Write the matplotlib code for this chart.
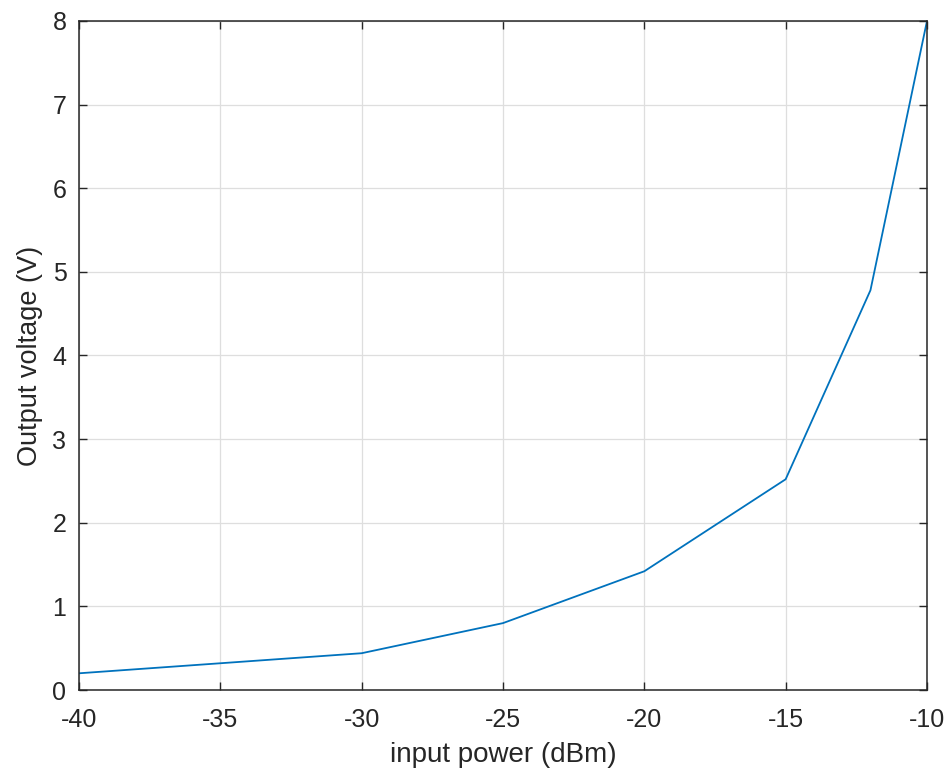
import matplotlib
matplotlib.use('Agg')
import matplotlib.pyplot as plt

# input power (dBm) vs output voltage (V)
power_dbm = [-40, -30, -25, -20, -15, -12, -10]
voltage = [0.20, 0.44, 0.80, 1.42, 2.52, 4.78, 8.0]

x_ticks = [-40, -35, -30, -25, -20, -15, -10]
y_ticks = [0, 1, 2, 3, 4, 5, 6, 7, 8]

plt.rcParams['font.family'] = ['Liberation Sans', 'DejaVu Sans']
plt.rcParams['axes.unicode_minus'] = False

fig = plt.figure(figsize=(9.49, 7.74), dpi=100)
ax = fig.add_axes([0.0832, 0.1085, 0.8936, 0.8644])

ax.plot(power_dbm, voltage, color='#0072BD', lw=1.3)

ax.set_xlim(-40, -10)
ax.set_ylim(0, 8)
ax.set_xticks(x_ticks)
ax.set_yticks(y_ticks)
ax.grid(True, color='#dedede', lw=0.9)
ax.set_axisbelow(True)

for s in ax.spines.values():
    s.set_color('#262626')
    s.set_linewidth(1.1)
ax.tick_params(direction='in', length=6, width=1, colors='#262626',
               labelsize=18, top=True, right=True)
ax.tick_params(axis='x', pad=13)
ax.tick_params(axis='y', pad=9)

ax.set_xlabel('input power (dBm)', fontsize=20, color='#262626', labelpad=7)
ax.set_ylabel('Output voltage (V)', fontsize=19.5, color='#262626', labelpad=7)

fig.savefig('out.png')
